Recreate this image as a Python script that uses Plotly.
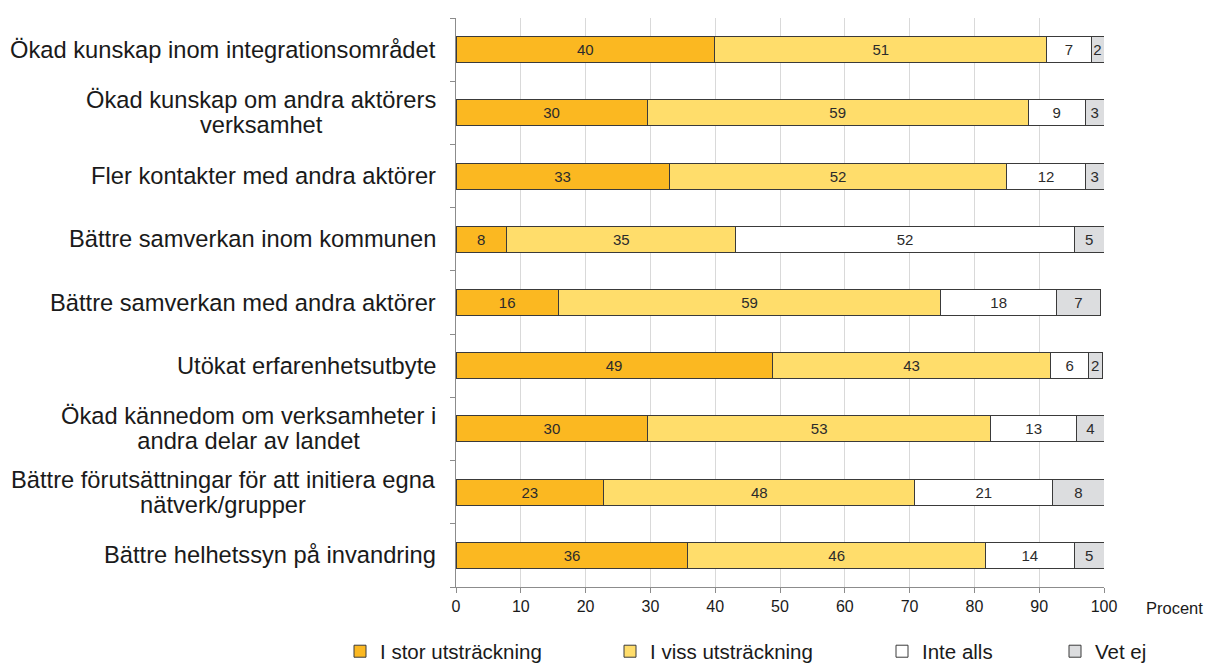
import plotly.graph_objects as go

categories = [
    "Ökad kunskap inom integrationsområdet",
    "Ökad kunskap om andra aktörers<br>verksamhet",
    "Fler kontakter med andra aktörer",
    "Bättre samverkan inom kommunen",
    "Bättre samverkan med andra aktörer",
    "Utökat erfarenhetsutbyte",
    "Ökad kännedom om verksamheter i<br>andra delar av landet",
    "Bättre förutsättningar för att initiera egna<br>nätverk/grupper",
    "Bättre helhetssyn på invandring",
]

stor = [39.9, 29.5, 32.9, 7.8, 15.8, 48.8, 29.6, 22.8, 35.8]
viss = [51.3, 58.8, 52.1, 35.4, 59.0, 43.0, 52.9, 48.0, 45.9]
inte = [6.8, 8.8, 12.1, 52.2, 17.9, 5.8, 13.3, 21.3, 13.7]
vet = [2.0, 2.9, 2.9, 4.6, 6.7, 2.1, 4.2, 7.9, 4.6]

series_names = ["I stor utsträckning", "I viss utsträckning", "Inte alls", "Vet ej"]
series_values = [stor, viss, inte, vet]
series_colors = ["#FBB821", "#FFDD6B", "#FFFFFF", "#DCDDDF"]

FONT = "Liberation Sans, Arial, sans-serif"
W, H = 1207, 664
# plot area in page pixels
PL, PR, PT, PB = 456, 1104, 17.5, 587.5
PW, PH = PR - PL, PB - PT


def px_x(x):
    return (x - PL) / PW


def px_y(y):
    return (PB - y) / PH


legend_keys = ["legend", "legend2", "legend3", "legend4"]
legend_sym_x = [360, 630, 902, 1075]

ids = list(range(len(categories)))

fig = go.Figure()
for name, vals, col, lk in zip(series_names, series_values, series_colors, legend_keys):
    fig.add_trace(go.Bar(
        y=ids, x=vals, name=name, orientation="h", legend=lk,
        marker=dict(color=col, line=dict(color="#3a3a3a", width=1)),
        texttemplate="%{x:.0f}", textposition="inside", insidetextanchor="middle",
        textfont=dict(family=FONT, size=15, color="#2b2b2b"),
        constraintext="none",
        hoverinfo="skip",
    ))

LABEL_SIZE = 23.7
LINE_H = 25  # distance between label lines in px
for i, c in zip(ids, categories):
    lines = c.split("<br>")
    if len(lines) == 1:
        fig.add_annotation(
            x=0, xref="paper", y=i, yref="y", text=c, showarrow=False,
            xanchor="right", yanchor="middle", xshift=-18,
            font=dict(family=FONT, size=LABEL_SIZE, color="#1a1a1a"),
        )
    else:
        txt = "<br>".join(
            f"<span style='font-size:{LABEL_SIZE}px'>{ln}</span>" for ln in lines
        )
        fig.add_annotation(
            x=0, xref="paper", y=i, yref="y", text=txt, showarrow=False,
            xanchor="right", yanchor="middle", align="center", xshift=-18,
            font=dict(family=FONT, size=LINE_H / 1.3, color="#1a1a1a"),
        )

fig.add_annotation(
    x=px_x(1174), xref="paper", y=px_y(609), yref="paper", text="Procent", showarrow=False,
    xanchor="center", yanchor="middle",
    font=dict(family=FONT, size=16.5, color="#1a1a1a"),
)

layout_legends = {}
for lk, sx in zip(legend_keys, legend_sym_x):
    layout_legends[lk] = dict(
        orientation="h", x=px_x(sx - 20), y=px_y(652), xanchor="left", yanchor="middle",
        font=dict(size=20.5, family=FONT, color="#1a1a1a"),
        bgcolor="rgba(0,0,0,0)", itemclick=False, itemdoubleclick=False,
    )

fig.update_layout(
    barmode="stack",
    bargap=0.59,
    width=W, height=H,
    margin=dict(l=PL, r=W - PR, t=PT, b=H - PB, autoexpand=False),
    paper_bgcolor="white", plot_bgcolor="white",
    font=dict(family=FONT, color="#1a1a1a"),
    showlegend=True,
    **layout_legends,
)

fig.update_xaxes(
    range=[0, 100], dtick=10, tick0=0,
    showgrid=True, gridcolor="#d9d9d9", gridwidth=1,
    showline=True, linecolor="#8c8c8c", linewidth=1,
    ticks="outside", ticklen=5, tickcolor="#8c8c8c",
    tickfont=dict(size=16, family=FONT, color="#1a1a1a"),
    zeroline=False, fixedrange=True,
)
fig.update_yaxes(
    type="category", autorange="reversed",
    tickvals=ids, showticklabels=False,
    ticks="outside", ticklen=5, tickcolor="#8c8c8c", tickson="boundaries",
    showline=True, linecolor="#8c8c8c", linewidth=1,
    showgrid=False, zeroline=False, fixedrange=True,
)

fig.write_html(
    "out.html",
    config={"displayModeBar": False},
    post_script="document.body.style.margin='0';document.body.style.overflow='hidden';",
)
